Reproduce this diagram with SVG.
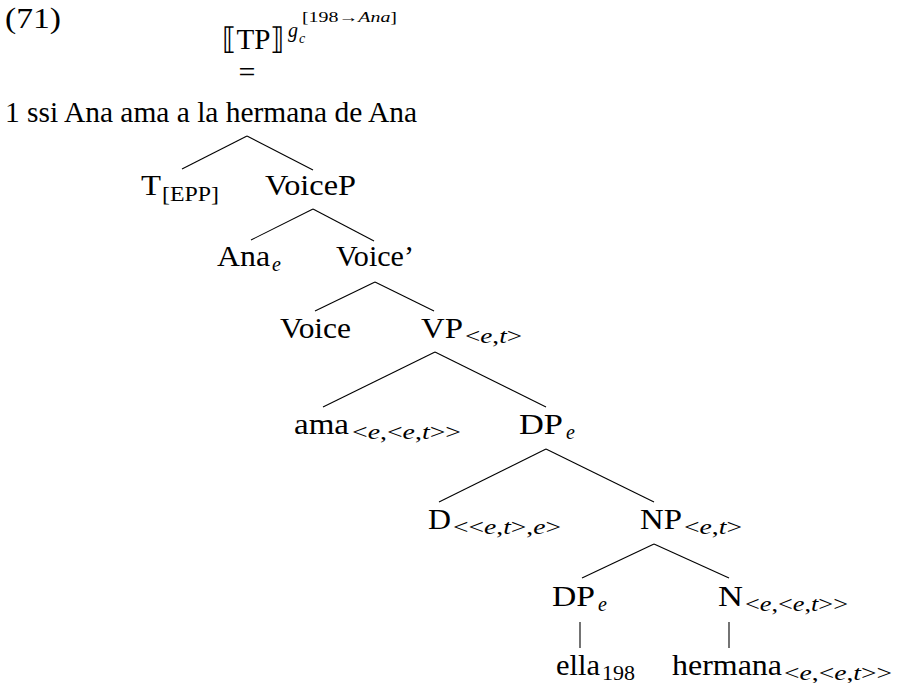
<svg xmlns="http://www.w3.org/2000/svg" width="899" height="683" viewBox="0 0 899 683">
<style>
text{font-family:'Liberation Serif',serif;fill:#000}
.m{font-size:30px}
.s{font-size:20px}
.i{font-style:italic}
.t{font-size:14px}
#edges line{stroke:#000;stroke-width:1.1}
</style>
<rect width="899" height="683" fill="#fff"/>
<g id="header">
<text class="m" x="5" y="28" textLength="56" lengthAdjust="spacingAndGlyphs">(71)</text>
<text class="m" x="222" y="49" textLength="63" lengthAdjust="spacingAndGlyphs">⟦TP⟧</text>
<text class="s i" x="288" y="37">g</text>
<text class="t i" x="299" y="43">c</text>
<text class="t" x="302" y="22" textLength="95" lengthAdjust="spacingAndGlyphs">[198→<tspan class="i">Ana</tspan>]</text>
<text class="m" x="247" y="82" text-anchor="middle">=</text>
<text class="m" x="5" y="122" textLength="412" lengthAdjust="spacingAndGlyphs">1 ssi Ana ama a la hermana de Ana</text>
</g>
<g id="edges">
<line x1="247" y1="136" x2="182" y2="169"/>
<line x1="247" y1="136" x2="313" y2="170"/>
<line x1="313" y1="209" x2="251" y2="240"/>
<line x1="313" y1="209" x2="374" y2="241"/>
<line x1="375" y1="282" x2="315" y2="311"/>
<line x1="375" y1="282" x2="434" y2="311"/>
<line x1="435" y1="352" x2="323" y2="407"/>
<line x1="435" y1="352" x2="546" y2="407"/>
<line x1="546" y1="449" x2="439" y2="502"/>
<line x1="546" y1="449" x2="654" y2="502"/>
<line x1="654" y1="544" x2="582" y2="578"/>
<line x1="654" y1="544" x2="729" y2="578"/>
<line x1="580" y1="622" x2="580" y2="648"/>
<line x1="729" y1="622" x2="729" y2="648"/>
</g>
<g id="n-T"><text class="m" x="141" y="195" textLength="20" lengthAdjust="spacingAndGlyphs">T</text><text class="s" x="162" y="201" textLength="57" lengthAdjust="spacingAndGlyphs">[EPP]</text></g>
<g id="n-VoiceP"><text class="m" x="265" y="195" textLength="91" lengthAdjust="spacingAndGlyphs">VoiceP</text></g>
<g id="n-Ana"><text class="m" x="217" y="266" textLength="53" lengthAdjust="spacingAndGlyphs">Ana</text><text class="s i" x="272" y="271">e</text></g>
<g id="n-VoiceBar"><text class="m" x="336" y="266" textLength="78" lengthAdjust="spacingAndGlyphs">Voice’</text></g>
<g id="n-Voice"><text class="m" x="280" y="338" textLength="71" lengthAdjust="spacingAndGlyphs">Voice</text></g>
<g id="n-VP"><text class="m" x="421" y="338" textLength="42" lengthAdjust="spacingAndGlyphs">VP</text><text class="s" x="465" y="343" textLength="57" lengthAdjust="spacingAndGlyphs">&lt;<tspan class="i">e</tspan>,<tspan class="i">t</tspan>&gt;</text></g>
<g id="n-ama"><text class="m" x="294" y="434" textLength="55" lengthAdjust="spacingAndGlyphs">ama</text><text class="s" x="352" y="439" textLength="109" lengthAdjust="spacingAndGlyphs">&lt;<tspan class="i">e</tspan>,&lt;<tspan class="i">e</tspan>,<tspan class="i">t</tspan>&gt;&gt;</text></g>
<g id="n-DP1"><text class="m" x="519" y="434" textLength="44" lengthAdjust="spacingAndGlyphs">DP</text><text class="s i" x="566" y="439">e</text></g>
<g id="n-D"><text class="m" x="428" y="529" textLength="23" lengthAdjust="spacingAndGlyphs">D</text><text class="s" x="453" y="534" textLength="108" lengthAdjust="spacingAndGlyphs">&lt;&lt;<tspan class="i">e</tspan>,<tspan class="i">t</tspan>&gt;,<tspan class="i">e</tspan>&gt;</text></g>
<g id="n-NP"><text class="m" x="640" y="529" textLength="42" lengthAdjust="spacingAndGlyphs">NP</text><text class="s" x="684" y="534" textLength="58" lengthAdjust="spacingAndGlyphs">&lt;<tspan class="i">e</tspan>,<tspan class="i">t</tspan>&gt;</text></g>
<g id="n-DP2"><text class="m" x="552" y="606" textLength="43" lengthAdjust="spacingAndGlyphs">DP</text><text class="s i" x="598" y="611">e</text></g>
<g id="n-N"><text class="m" x="718" y="606" textLength="25" lengthAdjust="spacingAndGlyphs">N</text><text class="s" x="745" y="611" textLength="103" lengthAdjust="spacingAndGlyphs">&lt;<tspan class="i">e</tspan>,&lt;<tspan class="i">e</tspan>,<tspan class="i">t</tspan>&gt;&gt;</text></g>
<g id="n-ella"><text class="m" x="556" y="675" textLength="44" lengthAdjust="spacingAndGlyphs">ella</text><text class="s" x="602" y="680" textLength="33" lengthAdjust="spacingAndGlyphs">198</text></g>
<g id="n-hermana"><text class="m" x="672" y="675" textLength="110" lengthAdjust="spacingAndGlyphs">hermana</text><text class="s" x="784" y="680" textLength="108" lengthAdjust="spacingAndGlyphs">&lt;<tspan class="i">e</tspan>,&lt;<tspan class="i">e</tspan>,<tspan class="i">t</tspan>&gt;&gt;</text></g>
</svg>
